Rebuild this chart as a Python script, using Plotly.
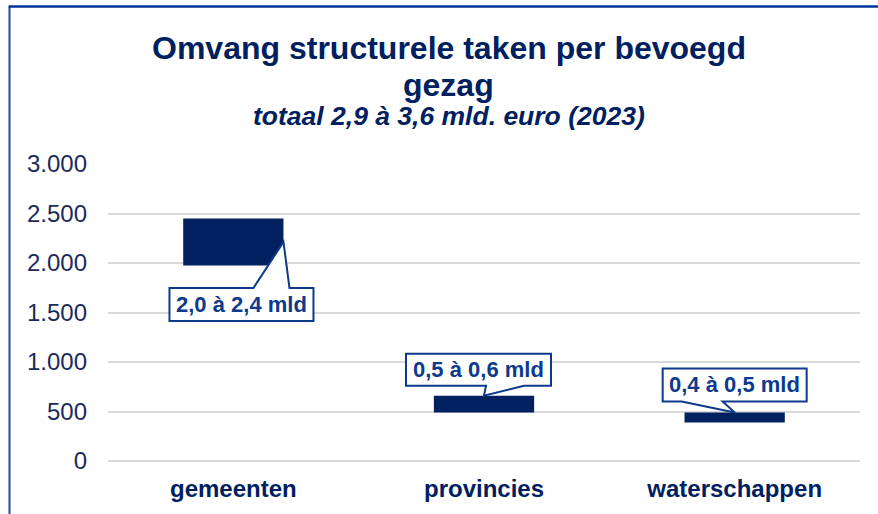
import plotly.graph_objects as go

categories = ["gemeenten", "provincies", "waterschappen"]
low_values = [1975, 490, 390]
high_values = [2450, 660, 490]
callout_labels = ["2,0 à 2,4 mld", "0,5 à 0,6 mld", "0,4 à 0,5 mld"]
y_ticks = [0, 500, 1000, 1500, 2000, 2500, 3000]

NAVY = "#002060"
BLUE = "#0D3A8C"
FONT = "Liberation Sans, Arial, sans-serif"
BAR_W = 0.4

fig = go.Figure()
fig.add_trace(go.Bar(
    x=list(range(len(categories))),
    y=[h - l for h, l in zip(high_values, low_values)],
    base=low_values,
    width=BAR_W,
    marker=dict(color=NAVY, line=dict(width=0)),
    hoverinfo="skip",
))

# callout geometry (pixels relative to anchor point on bar), y up
callouts = [
    dict(ax=0 + BAR_W / 2, ay=(low_values[0] + high_values[0]) / 2,
         path="M -114,-46 L -30,-46 L 0,0 L 6,-46 L 30,-46 L 30,-79 L -114,-79 Z",
         tx=-42, ty=-62.5),
    dict(ax=1, ay=high_values[1],
         path="M -78,10 L 2,10 L 0,0 L 40,10 L 67,10 L 67,42 L -78,42 Z",
         tx=-5.5, ty=26),
    dict(ax=2, ay=high_values[2],
         path="M -72,11 L -53,11 L 0,0 L -12,11 L 72,11 L 72,44 L -72,44 Z",
         tx=0, ty=27.5),
]

shapes = []
annotations = []
for c, lab in zip(callouts, callout_labels):
    shapes.append(dict(type="path", xref="x", yref="y",
                       xsizemode="pixel", ysizemode="pixel",
                       xanchor=c["ax"], yanchor=c["ay"], path=c["path"],
                       fillcolor="white", line=dict(color=BLUE, width=2),
                       layer="above"))
    annotations.append(dict(x=c["ax"], y=c["ay"], xref="x", yref="y",
                            xshift=c["tx"], yshift=c["ty"], showarrow=False,
                            text="<b>" + lab + "</b>",
                            font=dict(family=FONT, size=22, color=BLUE),
                            xanchor="center", yanchor="middle"))

# frame lines
shapes.append(dict(type="line", xref="paper", yref="paper",
                   x0=-0.131, x1=-0.131, y0=1.532, y1=-0.2,
                   line=dict(color="#1F4E9E", width=2)))
shapes.append(dict(type="line", xref="paper", yref="paper",
                   x0=-0.132, x1=1.03, y0=1.530, y1=1.530,
                   line=dict(color="#003399", width=2.5)))

# titles
annotations += [
    dict(text="<b>Omvang structurele taken per bevoegd</b>", xref="paper", yref="paper",
         x=0.4528, y=1.3917, showarrow=False, xanchor="center", yanchor="middle",
         font=dict(family=FONT, size=32, color=NAVY)),
    dict(text="<b>gezag</b>", xref="paper", yref="paper",
         x=0.4528, y=1.2675, showarrow=False, xanchor="center", yanchor="middle",
         font=dict(family=FONT, size=32, color=NAVY)),
    dict(text="<b><i>totaal 2,9 à 3,6 mld. euro (2023)</i></b>", xref="paper", yref="paper",
         x=0.4528, y=1.160, showarrow=False, xanchor="center", yanchor="middle",
         font=dict(family=FONT, size=26.5, color=NAVY)),
]

fig.update_layout(
    width=878, height=514,
    margin=dict(l=108, r=18, t=164, b=48, pad=0),
    paper_bgcolor="white", plot_bgcolor="white",
    showlegend=False,
    separators=",.",
    shapes=shapes,
    annotations=annotations,
    xaxis=dict(
        tickmode="array", tickvals=list(range(len(categories))),
        ticktext=["<b>" + c + "</b>" for c in categories],
        range=[-0.5, len(categories) - 0.5],
        showgrid=False, zeroline=False, showline=False, ticks="",
        ticklabelstandoff=11,
        tickfont=dict(family=FONT, size=24, color=NAVY),
    ),
    yaxis=dict(
        range=[0, 3000], tickvals=y_ticks, tickformat=",d",
        showgrid=True, gridcolor="#D9D9D9", gridwidth=2,
        zeroline=True, zerolinecolor="#D9D9D9", zerolinewidth=2,
        showline=False, ticks="", ticklabelstandoff=20,
        tickfont=dict(family=FONT, size=24, color="#1B2A5C"),
    ),
)

fig.write_html("out.html", config={"displayModeBar": False},
               post_script="document.body.style.margin='0px';")
